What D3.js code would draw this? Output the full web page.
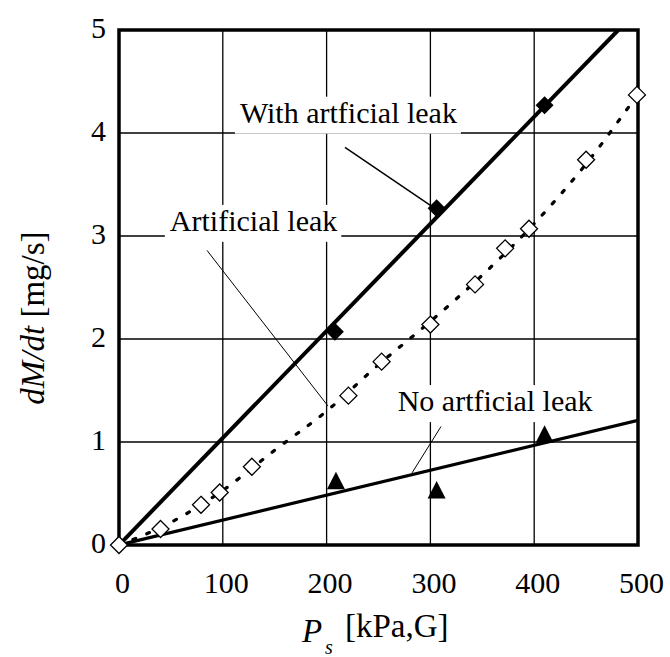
<!DOCTYPE html>
<html>
<head>
<meta charset="utf-8">
<script src="https://cdn.jsdelivr.net/npm/d3@7"></script>
<style>
  html, body { margin: 0; padding: 0; background: #fff; }
  svg { display: block; font-family: "Liberation Serif", "Times New Roman", serif; }
</style>
</head>
<body>
<svg id="chart" width="670" height="657"></svg>
<script>
// Measured leak rate dM/dt [mg/s] against supply pressure Ps [kPa,G]
const xTicks = [0, 100, 200, 300, 400, 500];
const yTicks = [0, 1, 2, 3, 4, 5];

// Artificial leak alone (open diamonds)
const leakP    = [0, 40, 79, 97, 128, 221, 253, 300, 343, 372, 395, 450, 499];
const leakRate = [0, 0.155, 0.39, 0.51, 0.76, 1.45, 1.78, 2.14, 2.53, 2.88, 3.07, 3.74, 4.37];

// Fitted curve for the artificial leak (dotted)
const fitP    = [0, 50, 100, 150, 200, 250, 300, 350, 400, 450, 500];
const fitRate = [0, 0.22, 0.53, 0.92, 1.30, 1.75, 2.17, 2.62, 3.12, 3.70, 4.38];

// With artificial leak (filled diamonds) and its straight fit
const withP    = [208, 306, 410];
const withRate = [2.07, 3.27, 4.27];
const withLineP    = [0, 481];
const withLineRate = [0, 5];

// No artificial leak (filled triangles) and its straight fit
const noP    = [209, 306, 410];
const noRate = [0.62, 0.53, 1.07];
const noLineP    = [0, 500];
const noLineRate = [0, 1.21];

// Callout texts, anchored in data units: [text, p, rate, leader from p, rate, leader to p, rate]
const callouts = [
  ["With artficial leak", 116.5, 4.10, 217.7, 3.86, 302.5, 3.28, 1.5],
  ["Artificial leak",      49.0, 3.05,  84.8, 2.86, 201.3, 1.35, 1.0],
  ["No artficial leak",   268.5, 1.30, 310.2, 1.15, 282.3, 0.70, 1.0]
];

const svg = d3.select("#chart");
const x = d3.scaleLinear().domain([0, 500]).range([119, 638]);
const y = d3.scaleLinear().domain([0, 5]).range([545, 30]);

// grid
const grid = svg.append("g").attr("stroke", "#000").attr("stroke-width", 1.3);
grid.selectAll("line.v").data(xTicks.slice(1, -1)).join("line")
  .attr("x1", d => x(d)).attr("x2", d => x(d))
  .attr("y1", y(0)).attr("y2", y(5));
grid.selectAll("line.h").data(yTicks.slice(1, -1)).join("line")
  .attr("y1", d => y(d)).attr("y2", d => y(d))
  .attr("x1", x(0)).attr("x2", x(500));

// tick labels via axis generators (no domain/tick lines)
const xAxis = svg.append("g").attr("transform", `translate(0,${y(0)})`)
  .call(d3.axisBottom(x).tickValues(xTicks).tickSize(0).tickPadding(0).tickFormat(d3.format("d")));
xAxis.select(".domain").remove();
xAxis.selectAll("text").attr("font-size", 30).attr("font-family", "Liberation Serif")
  .attr("fill", "#000").attr("dy", null).attr("y", 48).attr("dx", 3);

const yAxis = svg.append("g").attr("transform", `translate(${x(0)},0)`)
  .call(d3.axisLeft(y).tickValues(yTicks).tickSize(0).tickPadding(0).tickFormat(d3.format("d")));
yAxis.select(".domain").remove();
yAxis.selectAll("text").attr("font-size", 30).attr("font-family", "Liberation Serif")
  .attr("fill", "#000").attr("dy", null).attr("x", -13).attr("y", 7);

// callout boxes and texts
const ann = svg.append("g");
callouts.forEach(c => {
  const t = ann.append("text")
    .attr("x", x(c[1])).attr("y", y(c[2]))
    .attr("font-size", 30).attr("fill", "#000").text(c[0]);
  const b = t.node().getBBox();
  ann.insert("rect", "text")
    .attr("x", b.x - 5).attr("y", b.y + 1)
    .attr("width", b.width + 9).attr("height", b.height + 4)
    .attr("fill", "#fff");
  ann.append("line")
    .attr("x1", x(c[3])).attr("y1", y(c[4]))
    .attr("x2", x(c[5])).attr("y2", y(c[6]))
    .attr("stroke", "#000").attr("stroke-width", c[7]);
});

// data lines clipped to the plot area
svg.append("clipPath").attr("id", "plot").append("rect")
  .attr("x", x(0)).attr("y", y(5)).attr("width", x(500) - x(0)).attr("height", y(0) - y(5));
const lines = svg.append("g").attr("clip-path", "url(#plot)").attr("fill", "none").attr("stroke", "#000");

const line = d3.line().x(d => x(d[0])).y(d => y(d[1]));
lines.append("path").datum(d3.zip(withLineP, withLineRate))
  .attr("d", line).attr("stroke-width", 4);
lines.append("path").datum(d3.zip(noLineP, noLineRate))
  .attr("d", line).attr("stroke-width", 3.2);
lines.append("path").datum(d3.zip(fitP, fitRate))
  .attr("d", line.curve(d3.curveMonotoneX))
  .attr("stroke-width", 3.2).attr("stroke-linecap", "round").attr("stroke-dasharray", "3,12");

// frame
svg.append("rect")
  .attr("x", x(0)).attr("y", y(5)).attr("width", x(500) - x(0)).attr("height", y(0) - y(5))
  .attr("fill", "none").attr("stroke", "#000").attr("stroke-width", 3.5);

// markers
const diamond = r => `M0,${-r}L${r},0L0,${r}L${-r},0Z`;
svg.append("g").selectAll("path").data(d3.zip(leakP, leakRate)).join("path")
  .attr("transform", d => `translate(${x(d[0])},${y(d[1])})`)
  .attr("d", diamond(8.5)).attr("fill", "#fff").attr("stroke", "#000").attr("stroke-width", 1.3);
svg.append("g").selectAll("path").data(d3.zip(withP, withRate)).join("path")
  .attr("transform", d => `translate(${x(d[0])},${y(d[1])})`)
  .attr("d", diamond(9)).attr("fill", "#000");
svg.append("g").selectAll("path").data(d3.zip(noP, noRate)).join("path")
  .attr("transform", d => `translate(${x(d[0])},${y(d[1])})`)
  .attr("d", "M0,-9.5L9,8L-9,8Z").attr("fill", "#000");

// axis titles
const xt = svg.append("text").attr("font-size", 33).attr("fill", "#000");
xt.append("tspan").attr("x", 302).attr("y", 642).attr("font-style", "italic").text("P");
xt.append("tspan").attr("x", 325).attr("y", 654).attr("font-size", 20).attr("font-style", "italic").text("s");
xt.append("tspan").attr("x", 345).attr("y", 637).text("[kPa,G]");

const yt = svg.append("text").attr("font-size", 33).attr("fill", "#000")
  .attr("text-anchor", "middle").attr("transform", "translate(44,318) rotate(-90)");
yt.append("tspan").attr("font-style", "italic").text("dM/dt");
yt.append("tspan").text(" [mg/s]");
</script>
</body>
</html>
